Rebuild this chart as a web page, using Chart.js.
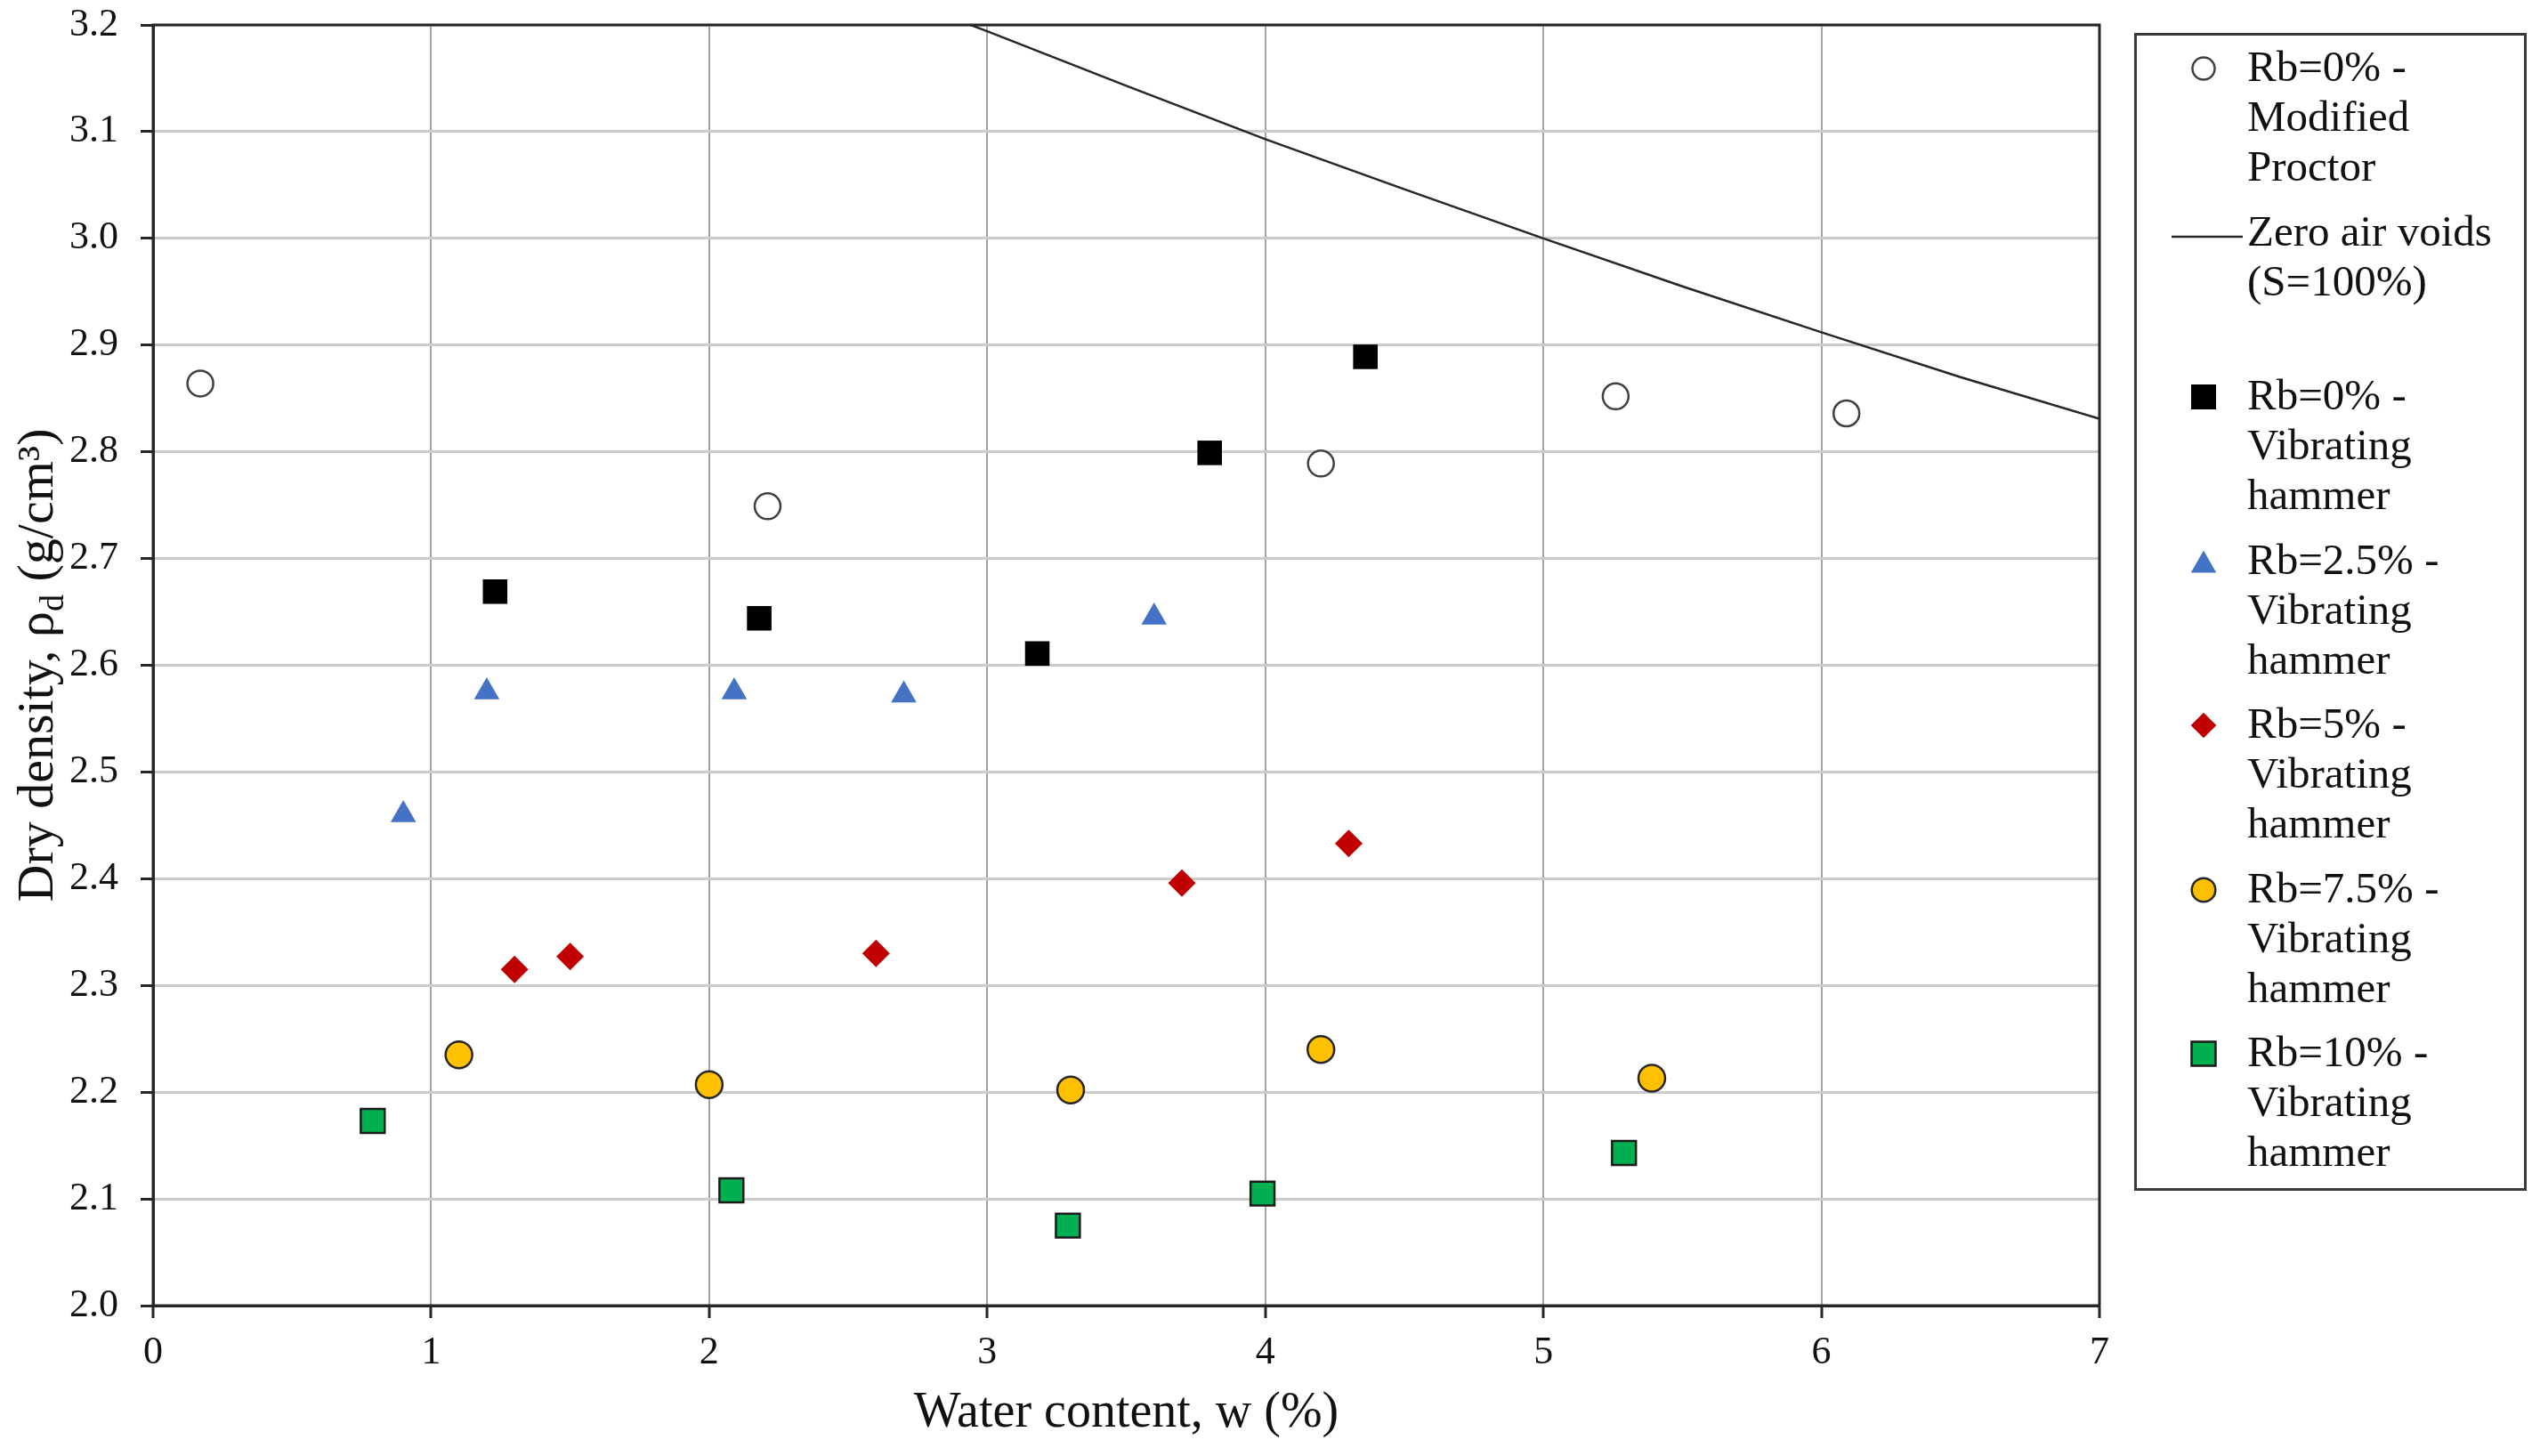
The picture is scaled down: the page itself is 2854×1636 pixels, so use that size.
<!DOCTYPE html>
<html>
<head>
<meta charset="utf-8">
<title>Dry density vs water content</title>
<script src="https://cdn.jsdelivr.net/npm/chart.js@4.4.1/dist/chart.umd.min.js"></script>
<style>
  html, body { margin: 0; padding: 0; background: #fff; }
  #wrap { position: relative; width: 2854px; height: 1636px; overflow: hidden; }
  #chart { position: absolute; left: 0; top: 0; }
  #legend {
    position: absolute; left: 2398px; top: 37px; width: 441px; height: 1301px;
    box-sizing: border-box; border: 3px solid #3a3a3a; background: #fff;
    font-family: 'Liberation Serif', 'Times New Roman', serif; font-size: 49px; color: #111;
  }
  .item { position: absolute; left: 0; width: 100%; height: 168px; }
  .item .txt { position: absolute; left: 124px; top: 0; line-height: 56px; white-space: nowrap; }
  .item svg { position: absolute; overflow: visible; }
</style>
</head>
<body>
<div id="wrap">
  <canvas id="chart" width="2854" height="1636"></canvas>
  <div id="legend"></div>
</div>
<script>
/* Compaction curves: dry density against water content. */

// Rb=0% - Modified Proctor (open circles)
const mpW   = [0.17, 2.21, 4.20, 5.26, 6.09];
const mpRho = [2.864, 2.749, 2.789, 2.852, 2.836];

// Zero air voids line (S=100%)
const zavW   = [2.94, 3, 3.5, 4, 4.5, 5, 5.5, 6, 6.5, 7];
const zavRho = [3.2, 3.194, 3.143, 3.093, 3.046, 3.0, 2.955, 2.912, 2.870, 2.831];

// Vibrating hammer series, by rubber content Rb
const vh0W    = [1.23, 2.18, 3.18, 3.80, 4.36];
const vh0Rho  = [2.669, 2.644, 2.611, 2.799, 2.889];
const vh25W   = [0.90, 1.20, 2.09, 2.70, 3.60];
const vh25Rho = [2.460, 2.575, 2.575, 2.572, 2.645];
const vh5W    = [1.30, 1.50, 2.60, 3.70, 4.30];
const vh5Rho  = [2.315, 2.327, 2.330, 2.396, 2.433];
const vh75W   = [1.10, 2.00, 3.30, 4.20, 5.39];
const vh75Rho = [2.235, 2.207, 2.202, 2.240, 2.213];
const vh10W   = [0.79, 2.08, 3.29, 3.99, 5.29];
const vh10Rho = [2.173, 2.108, 2.075, 2.105, 2.143];

// Legend text, one line per entry row
const seriesNames = [
  ['Rb=0% -', 'Modified', 'Proctor'],
  ['Zero air voids', '(S=100%)'],
  ['Rb=0% -', 'Vibrating', 'hammer'],
  ['Rb=2.5% -', 'Vibrating', 'hammer'],
  ['Rb=5% -', 'Vibrating', 'hammer'],
  ['Rb=7.5% -', 'Vibrating', 'hammer'],
  ['Rb=10% -', 'Vibrating', 'hammer'],
];

const xTickValues = [0, 1, 2, 3, 4, 5, 6, 7];
const yTickValues = [2.0, 2.1, 2.2, 2.3, 2.4, 2.5, 2.6, 2.7, 2.8, 2.9, 3.0, 3.1, 3.2];

const serif = "'Liberation Serif', 'Times New Roman', serif";
const INK = '#111';
Chart.defaults.font.family = serif;
Chart.defaults.color = INK;

const pts = (xs, ys) => xs.map((x, i) => ({ x, y: ys[i] }));
const name = i => seriesNames[i].join(' ');

// Full box round the plot area (Excel draws all four sides).
const plotFrame = {
  id: 'plotFrame',
  beforeDatasetsDraw(chart) {
    const { ctx, chartArea: a } = chart;
    ctx.save();
    ctx.strokeStyle = '#262626';
    ctx.lineWidth = 3;
    ctx.strokeRect(a.left, a.top, a.right - a.left, a.bottom - a.top);
    ctx.restore();
  },
};

// Y title needs a subscript d, which the built-in title cannot do.
const yTitle = {
  id: 'yTitle',
  afterDraw(chart) {
    const { ctx, chartArea } = chart;
    const big = `58px ${serif}`, small = `38px ${serif}`;
    const parts = [['Dry density, ρ', big, 0], ['d', small, 12], [' (g/cm³)', big, 0]];
    ctx.save();
    let total = 0;
    for (const p of parts) { ctx.font = p[1]; p.push(ctx.measureText(p[0]).width); total += p[3]; }
    ctx.translate(59, (chartArea.top + chartArea.bottom) / 2);
    ctx.rotate(-Math.PI / 2);
    ctx.fillStyle = INK;
    ctx.textBaseline = 'alphabetic';
    let x = -total / 2;
    for (const [t, f, dy, w] of parts) { ctx.font = f; ctx.fillText(t, x, dy); x += w; }
    ctx.restore();
  },
};

const datasets = [
  { label: name(0), data: pts(mpW, mpRho), pointStyle: 'circle', pointRadius: 14.5,
    backgroundColor: '#fff', borderColor: '#404040', borderWidth: 2.5 },
  { label: name(1), data: pts(zavW, zavRho), showLine: true, tension: 0, fill: false,
    pointRadius: 0, borderColor: '#262626', borderWidth: 2.5 },
  { label: name(2), data: pts(vh0W, vh0Rho), pointStyle: 'rect', pointRadius: 19.5,
    backgroundColor: '#000', borderColor: '#000', borderWidth: 0 },
  { label: name(3), data: pts(vh25W, vh25Rho), pointStyle: 'triangle', pointRadius: 16.5,
    backgroundColor: '#4472C4', borderColor: '#4472C4', borderWidth: 0 },
  { label: name(4), data: pts(vh5W, vh5Rho), pointStyle: 'rectRot', pointRadius: 15.5,
    backgroundColor: '#C00000', borderColor: '#C00000', borderWidth: 0 },
  { label: name(5), data: pts(vh75W, vh75Rho), pointStyle: 'circle', pointRadius: 15,
    backgroundColor: '#FFC000', borderColor: '#262626', borderWidth: 2.5 },
  { label: name(6), data: pts(vh10W, vh10Rho), pointStyle: 'rect', pointRadius: 19,
    backgroundColor: '#00B050', borderColor: '#1a1a1a', borderWidth: 2.5 },
];
datasets.forEach(d => { d.pointHoverRadius = d.pointRadius; });

new Chart(document.getElementById('chart'), {
  type: 'scatter',
  data: { datasets },
  options: {
    responsive: false,
    animation: false,
    devicePixelRatio: 1,
    events: [],
    layout: { padding: { top: 28, right: 495, left: 0, bottom: 0 } },
    plugins: { legend: { display: false }, tooltip: { enabled: false } },
    scales: {
      x: {
        type: 'linear', min: 0, max: 7,
        afterBuildTicks: s => { s.ticks = xTickValues.map(value => ({ value })); },
        afterFit: s => { s.height = 169; },
        ticks: { font: { size: 44 }, padding: 13, color: INK, maxRotation: 0, callback: v => String(v) },
        grid: { color: '#a3a3a3', lineWidth: 2, tickLength: 14, tickColor: '#262626', tickWidth: 3 },
        border: { color: '#262626', width: 3 },
        title: { display: true, text: 'Water content, w (%)', color: INK,
          font: { size: 56, lineHeight: 1.2 }, padding: { top: 0, bottom: 14 } },
      },
      y: {
        type: 'linear', min: 2.0, max: 3.2,
        afterBuildTicks: s => { s.ticks = yTickValues.map(value => ({ value })); },
        // fixed width, and no extra label padding so the plot top sits at 28px
        afterFit: s => { s.width = 172; s.paddingTop = 0; s.paddingBottom = 0; },
        ticks: { font: { size: 44 }, padding: 25, color: INK, callback: v => v.toFixed(1) },
        grid: { color: '#cbcbcb', lineWidth: 3, tickLength: 14, tickColor: '#262626', tickWidth: 3 },
        border: { color: '#262626', width: 3 },
      },
    },
  },
  plugins: [plotFrame, yTitle],
});

// HTML legend: multi-line entries inside a framed box, like the Excel original.
const marks = [
  '<circle cx="20" cy="20" r="12.5" fill="#fff" stroke="#404040" stroke-width="2.5"/>',
  null,
  '<rect x="6" y="6" width="28" height="28" fill="#000"/>',
  '<polygon points="20,7.6 34.3,32.4 5.7,32.4" fill="#4472C4"/>',
  '<polygon points="20,5.7 34.3,20 20,34.3 5.7,20" fill="#C00000"/>',
  '<circle cx="20" cy="20" r="13.3" fill="#FFC000" stroke="#262626" stroke-width="2.5"/>',
  '<rect x="6.5" y="6.5" width="27" height="27" fill="#00B050" stroke="#1a1a1a" stroke-width="2.5"/>',
];
const legend = document.getElementById('legend');
seriesNames.forEach((lines, i) => {
  const item = document.createElement('div');
  item.className = 'item';
  item.style.top = (7.4 + i * 184.5) + 'px';
  const sym = marks[i]
    ? `<svg width="40" height="40" style="left:55px;top:10px">${marks[i]}</svg>`
    : '<svg width="80" height="6" style="left:39px;top:31px"><line x1="0" y1="3" x2="80" y2="3" stroke="#262626" stroke-width="2.7"/></svg>';
  item.innerHTML = sym + `<div class="txt">${lines.join('<br>')}</div>`;
  legend.appendChild(item);
});
</script>
</body>
</html>
